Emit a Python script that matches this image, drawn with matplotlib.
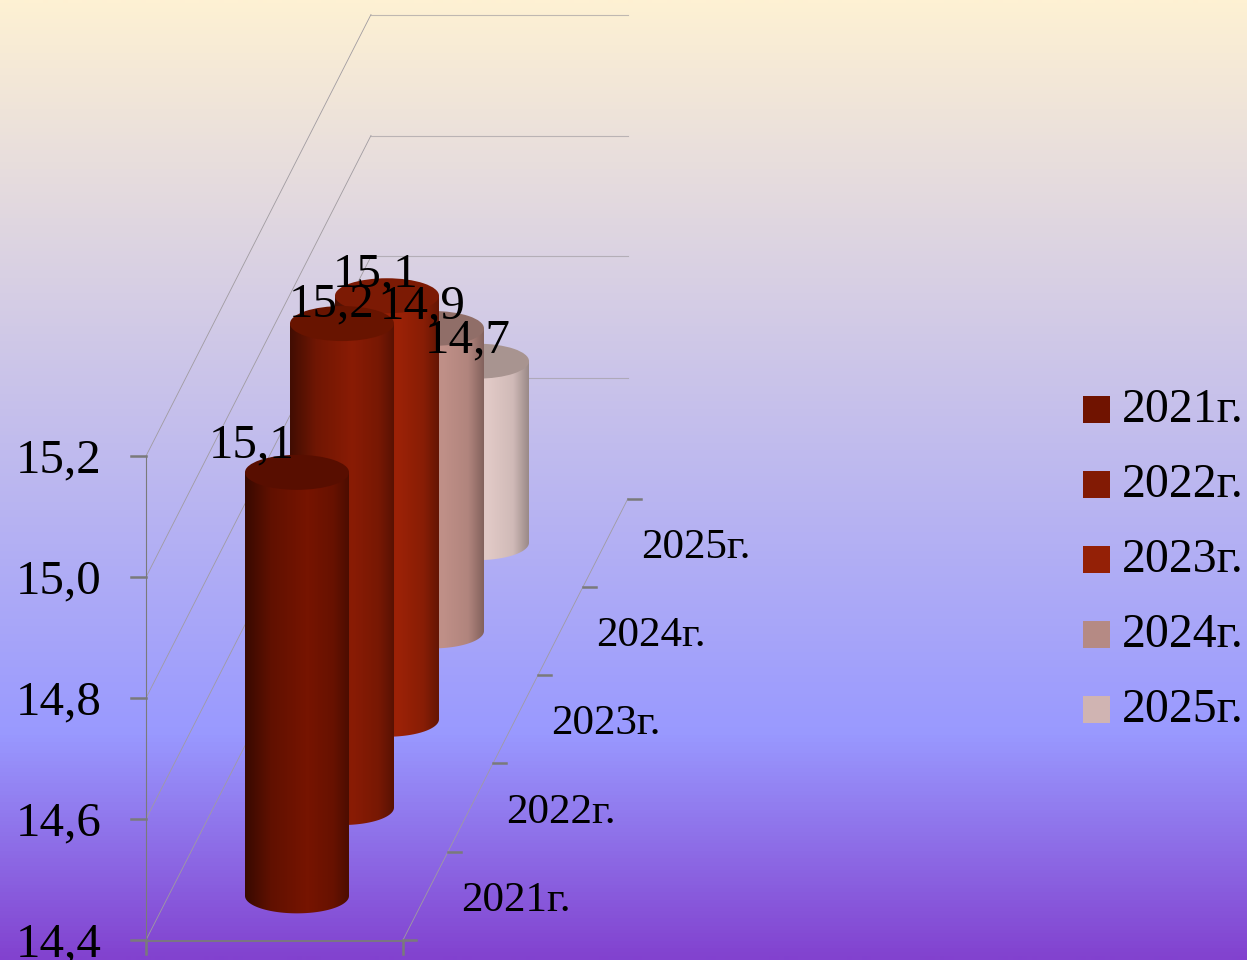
import numpy as np
import matplotlib
matplotlib.use("Agg")
import matplotlib.pyplot as plt
from matplotlib.colors import LinearSegmentedColormap, to_rgb
from matplotlib.patches import Ellipse, PathPatch, Rectangle
from matplotlib.path import Path

years = ["2021г.", "2022г.", "2023г.", "2024г.", "2025г."]
values = [15.1, 15.2, 15.1, 14.9, 14.7]
value_labels = ["15,1", "15,2", "15,1", "14,9", "14,7"]
y_ticks = [14.4, 14.6, 14.8, 15.0, 15.2]
y_tick_labels = ["14,4", "14,6", "14,8", "15,0", "15,2"]

body_colors = ["#701300", "#821A04", "#942006", "#C09088", "#E2CAC7"]
top_colors = ["#580E00", "#681400", "#7C1A04", "#906E68", "#A89490"]
legend_colors = ["#701300", "#821A04", "#942006", "#B58A84", "#D0B4B2"]
label_shift = [(-45, -15), (-10, -7), (-11, -9), (-9, -10), (-9, -9)]

FONT = "Liberation Serif"
AXIS = "#7A7A7A"
GRID = "#A09BA0"
W, H = 1247, 960

# oblique projection: x across (0..1), value upward, depth in category units
X0, Y0, WIDTH, PX_PER_UNIT = 146.0, 940.0, 257.0, 605.0
DX, DY = 45.0, -88.3


def px(x, v, d):
    return X0 + WIDTH * x + DX * d, Y0 - PX_PER_UNIT * (v - y_ticks[0]) + DY * d


fig = plt.figure(figsize=(W / 100, H / 100), dpi=100)
ax = fig.add_axes([0, 0, 1, 1])
ax.set_xlim(0, W)
ax.set_ylim(H, 0)
ax.axis("off")

bg = LinearSegmentedColormap.from_list(
    "bg", [(0, "#FEF1D3"), (735 / H, "#9999FF"), (1, "#8242CF")]
)
ax.imshow(np.linspace(0, 1, H)[:, None], cmap=bg, extent=(0, W, H, 0),
          aspect="auto", zorder=0, interpolation="bilinear")

n = len(years)
# gridlines on side and back walls
for i, v in enumerate(y_ticks):
    a, b = px(0, v, 0), px(0, v, n)
    ax.plot([a[0], b[0]], [a[1], b[1]], color=GRID, lw=0.6, zorder=1)
    if i > 0:
        c = px(1, v, n)
        ax.plot([b[0], c[0]], [b[1], c[1]], color=GRID, lw=0.8, alpha=0.65, zorder=1)

# axes
a, b = px(0, y_ticks[0], 0), px(0, y_ticks[-1], 0)
ax.plot([a[0], b[0]], [a[1], b[1]], color=AXIS, lw=0.8, zorder=2)
a, b = px(0, y_ticks[0], 0), px(1, y_ticks[0], 0)
ax.plot([a[0], b[0]], [a[1] + 1, b[1] + 1], color=AXIS, lw=1.3, zorder=2)
for x in (0, 1):
    p = px(x, y_ticks[0], 0)
    ax.plot([p[0], p[0]], [p[1], p[1] + 14], color=AXIS, lw=1.8, zorder=2)
a, b = px(1, y_ticks[0], 0), px(1, y_ticks[0], n)
ax.plot([a[0], b[0]], [a[1], b[1]], color=GRID, lw=0.6, zorder=2)

for v, lab in zip(y_ticks, y_tick_labels):
    p = px(0, v, 0)
    ax.plot([p[0] - 15, p[0]], [p[1], p[1]], color=AXIS, lw=1.8, zorder=2)
    ax.text(p[0] - 44, p[1] + 16, lab, ha="right", va="baseline",
            family=FONT, size=35.3, color="black", zorder=8)

for d in range(n + 1):
    p = px(1, y_ticks[0], d)
    ax.plot([p[0], p[0] + 13], [p[1], p[1]], color=AXIS, lw=1.8, zorder=2)

for d, lab in enumerate(years):
    p = px(1, y_ticks[0], d + 0.5)
    ax.text(p[0] + 36, p[1] + 15, lab, ha="left", va="baseline",
            family=FONT, size=31, color="black", zorder=8)

# cylinders, back to front
stops = [(0.0, 0.5), (0.25, 0.86), (0.6, 1.06), (0.85, 0.92), (1.0, 0.68)]
RX, RY = 52.0, 17.5
t = np.linspace(0, np.pi, 80)
for i in reversed(range(n)):
    cx, base = px(0.5, y_ticks[0], i + 0.5)
    _, top = px(0.5, values[i], i + 0.5)
    z = 3 + (n - i) * 0.1
    rgb = np.array(to_rgb(body_colors[i]))
    fs = [0.88, 0.93, 1.0, 0.92, 0.68] if i >= 3 else [s[1] for s in stops]
    cm = LinearSegmentedColormap.from_list(
        f"c{i}", [(s[0], tuple(np.clip(rgb * f, 0, 1))) for s, f in zip(stops, fs)]
    )
    im = ax.imshow(np.linspace(0, 1, 256)[None, :], cmap=cm,
                   extent=(cx - RX, cx + RX, base + RY + 2, top),
                   aspect="auto", zorder=z, interpolation="bilinear")
    xs = np.r_[cx - RX, cx - RX + (1 - np.cos(t)) * RX, cx + RX]
    ys = np.r_[top, base + RY * np.sin(t), top]
    clip = PathPatch(Path(np.c_[xs, ys]), transform=ax.transData,
                     fc="none", ec="none")
    ax.add_patch(clip)
    im.set_clip_path(clip)
    ax.add_patch(Ellipse((cx, top), 2 * RX, 2 * RY, fc=top_colors[i], ec="none",
                         zorder=z + 0.01))

ax.set_xlim(0, W)
ax.set_ylim(H, 0)

# data labels
for i, lab in enumerate(value_labels):
    cx, top = px(0.5, values[i], i + 0.5)
    ax.text(cx + label_shift[i][0], top + label_shift[i][1], lab, ha="center",
            va="baseline", family=FONT, size=35.3, color="black", zorder=9)

# legend
LEG_X, LEG_Y, LEG_STEP, BOX = 1083, 396, 75, 27
for i, lab in enumerate(years):
    y = LEG_Y + LEG_STEP * i
    ax.add_patch(Rectangle((LEG_X, y), BOX, BOX, fc=legend_colors[i], ec="none", zorder=8))
    ax.text(LEG_X + 39, y + 26, lab, ha="left", va="baseline",
            family=FONT, size=34.4, color="black", zorder=8)

fig.savefig("out.png", dpi=100)
